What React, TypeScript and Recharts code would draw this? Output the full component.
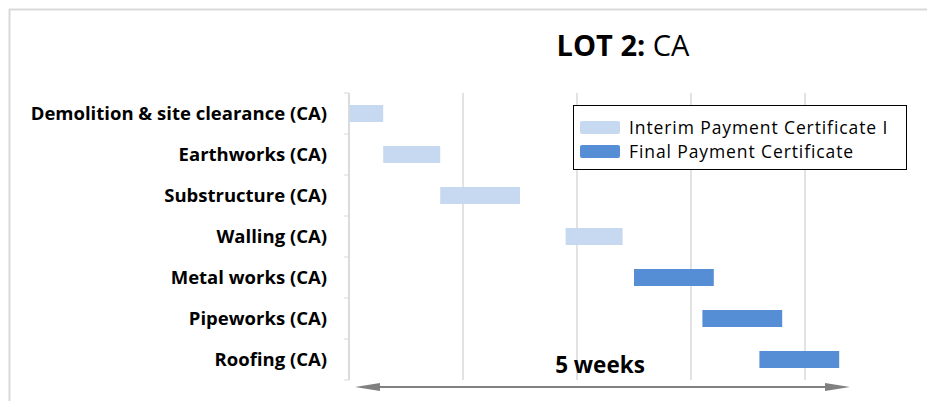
import React from "react";
import { BarChart, Bar, XAxis, YAxis, CartesianGrid, Legend } from "recharts";

const tasks = [
  "Demolition & site clearance (CA)",
  "Earthworks (CA)",
  "Substructure (CA)",
  "Walling (CA)",
  "Metal works (CA)",
  "Pipeworks (CA)",
  "Roofing (CA)",
];
const starts = [0, 3, 8, 19, 25, 31, 36];
const interimDur = [3, 5, 7, 5, 0, 0, 0];
const finalDur = [0, 0, 0, 0, 7, 7, 7];
const xTicks = [0, 10, 20, 30, 40];
const seriesNames = ["Interim Payment Certificate I", "Final Payment Certificate"];
const seriesColors = ["#C6D9F1", "#558ED5"];

const data = tasks.map((t, i) => ({
  task: t,
  offset: starts[i],
  interim: interimDur[i],
  final: finalDur[i],
}));

const W = 927;
const H = 401;
const M = { top: 93, right: 8, bottom: 21, left: 0 };
const AXIS_W = 349;
const BAND = (H - M.top - M.bottom) / tasks.length;
const FONT = "'Open Sans', sans-serif";

const YTick = (props: any) => {
  const { y, payload, index } = props;
  const ax = AXIS_W;
  return (
    <g>
      <line x1={ax - 5} x2={ax} y1={y - BAND / 2} y2={y - BAND / 2} stroke="#d9d9d9" />
      {index === tasks.length - 1 && (
        <line x1={ax - 5} x2={ax} y1={y + BAND / 2} y2={y + BAND / 2} stroke="#d9d9d9" />
      )}
      <text
        x={ax - 22}
        y={y}
        dy="0.35em"
        textAnchor="end"
        fontFamily={FONT}
        fontWeight={700}
        fontSize={18.5}
        fill="#000"
      >
        {payload.value}
      </text>
    </g>
  );
};

const LegendBox = () => (
  <div
    style={{
      position: "absolute",
      left: 573,
      top: 105,
      width: 334,
      height: 65,
      border: "1.5px solid #000",
      background: "#fff",
      boxSizing: "border-box",
      fontFamily: FONT,
      fontSize: 17.5,
      letterSpacing: "0.9px",
      color: "#000",
      padding: "9px 0 0 6px",
    }}
  >
    {seriesNames.map((n, i) => (
      <div key={n} style={{ display: "flex", alignItems: "center", height: 24 }}>
        <div
          style={{
            width: 40,
            height: 13,
            background: seriesColors[i],
            borderRadius: 2,
            marginRight: 9,
            flexShrink: 0,
          }}
        />
        <span style={{ lineHeight: "24px", whiteSpace: "nowrap" }}>{n}</span>
      </div>
    ))}
  </div>
);

const gridGen = (props: any) => {
  const ax = props && props.xAxis;
  if (ax && typeof ax.scale === "function") {
    return xTicks.map((t) => ax.scale(t));
  }
  const off = props.offset;
  return xTicks.map((t) => off.left + (t / 50) * off.width);
};

export default function App() {
  return (
    <div style={{ position: "absolute", left: 0, top: 0, width: W, height: H, background: "#fff" }}>
      <svg width={W} height={H} style={{ position: "absolute", left: 0, top: 0 }}>
        <line x1={9} x2={W} y1={9.5} y2={9.5} stroke="#d9d9d9" strokeWidth={2} />
        <line x1={9.5} x2={9.5} y1={9} y2={H} stroke="#d9d9d9" strokeWidth={2} />
      </svg>
      <div
        style={{
          position: "absolute",
          left: 0,
          width: 1246,
          top: 25,
          textAlign: "center",
          fontFamily: FONT,
          fontSize: 29,
          color: "#000",
          whiteSpace: "nowrap",
        }}
      >
        <span style={{ fontWeight: 700 }}>LOT 2:</span> CA
      </div>
      <div style={{ position: "absolute", left: 0, top: 0 }}>
        <BarChart width={W} height={H} data={data} layout="vertical" margin={M} barSize={17}>
          <CartesianGrid
            horizontal={false}
            vertical
            stroke="#d9d9d9"
            strokeWidth={1.5}
            verticalCoordinatesGenerator={gridGen}
          />
          <XAxis type="number" domain={[0, 50]} ticks={xTicks} hide />
          <YAxis
            type="category"
            dataKey="task"
            width={AXIS_W}
            axisLine={{ stroke: "#d9d9d9", strokeWidth: 1.5 }}
            tickLine={false}
            tick={<YTick />}
            interval={0}
          />
          <Legend
            layout="vertical"
            align="center"
            verticalAlign="middle"
            content={() => <LegendBox />}
            wrapperStyle={{ position: "absolute", left: 0, top: 0, width: 0, height: 0 }}
          />
          <Bar dataKey="offset" stackId="a" fill="transparent" isAnimationActive={false} legendType="none" />
          <Bar dataKey="interim" stackId="a" fill={seriesColors[0]} name={seriesNames[0]} isAnimationActive={false} />
          <Bar dataKey="final" stackId="a" fill={seriesColors[1]} name={seriesNames[1]} isAnimationActive={false} />
        </BarChart>
      </div>
      <svg width={W} height={H} style={{ position: "absolute", left: 0, top: 0, pointerEvents: "none" }}>
        <line x1={378} x2={827} y1={387} y2={387} stroke="#808080" strokeWidth={2} />
        <path d="M355,387 L380,383 L380,391 Z" fill="#808080" />
        <path d="M850,387 L825,383 L825,391 Z" fill="#808080" />
        <text x={600} y={373} textAnchor="middle" fontFamily={FONT} fontWeight={700} fontSize={22.5} fill="#000">
          5 weeks
        </text>
      </svg>
    </div>
  );
}
